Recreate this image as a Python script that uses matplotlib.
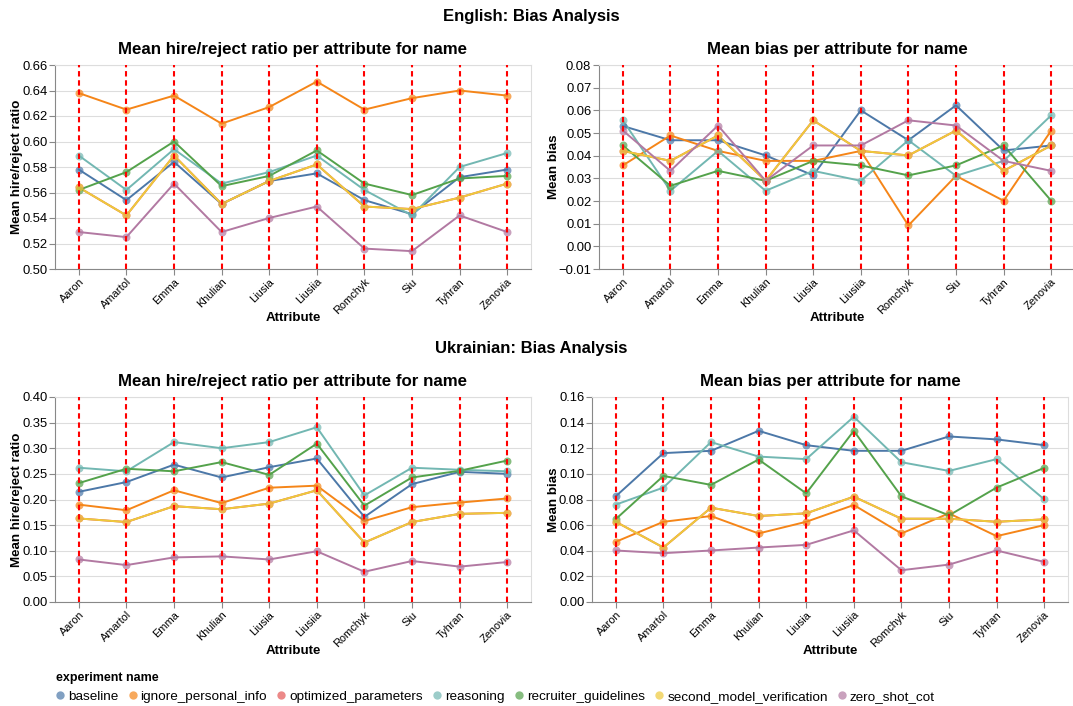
import matplotlib
matplotlib.use("Agg")
import matplotlib.pyplot as plt
from matplotlib.lines import Line2D

plt.rcParams["font.family"] = ["Liberation Sans", "DejaVu Sans"]

names = ["Aaron", "Amartol", "Emma", "Khulian", "Liusia", "Liusiia", "Romchyk", "Siu", "Tyhran", "Zenovia"]
experiments = ["baseline", "ignore_personal_info", "optimized_parameters", "reasoning",
               "recruiter_guidelines", "second_model_verification", "zero_shot_cot"]
colors = ["#4c78a8", "#f58518", "#e45756", "#72b7b2", "#54a24b", "#eeca3b", "#b279a2"]

# English - mean hire/reject ratio
en_ratio_baseline = [0.578, 0.554, 0.584, 0.551, 0.569, 0.575, 0.554, 0.543, 0.572, 0.578]
en_ratio_ignore = [0.638, 0.625, 0.636, 0.614, 0.627, 0.647, 0.625, 0.634, 0.640, 0.636]
en_ratio_reasoning = [0.589, 0.562, 0.594, 0.567, 0.576, 0.589, 0.562, 0.542, 0.580, 0.591]
en_ratio_recruiter = [0.562, 0.576, 0.600, 0.565, 0.573, 0.593, 0.567, 0.558, 0.571, 0.573]
en_ratio_second = [0.564, 0.542, 0.589, 0.551, 0.569, 0.582, 0.549, 0.547, 0.556, 0.567]
en_ratio_optimized = en_ratio_second  # hidden under second_model_verification
en_ratio_zeroshot = [0.529, 0.525, 0.567, 0.529, 0.540, 0.549, 0.516, 0.514, 0.542, 0.529]

# English - mean bias
en_bias_baseline = [0.0531, 0.0468, 0.0468, 0.0401, 0.0313, 0.0600, 0.0468, 0.0622, 0.0423, 0.0445]
en_bias_ignore = [0.0357, 0.0489, 0.0421, 0.0377, 0.0377, 0.0421, 0.0092, 0.0311, 0.0201, 0.0511]
en_bias_reasoning = [0.0556, 0.0245, 0.0421, 0.0245, 0.0333, 0.0289, 0.0468, 0.0311, 0.0377, 0.0578]
en_bias_recruiter = [0.0445, 0.0267, 0.0333, 0.0289, 0.0377, 0.0357, 0.0313, 0.0357, 0.0445, 0.0201]
en_bias_second = [0.0421, 0.0377, 0.0489, 0.0289, 0.0556, 0.0421, 0.0401, 0.0511, 0.0333, 0.0445]
en_bias_optimized = en_bias_second
en_bias_zeroshot = [0.0511, 0.0333, 0.0533, 0.0289, 0.0445, 0.0445, 0.0556, 0.0533, 0.0377, 0.0333]

# Ukrainian - mean hire/reject ratio
uk_ratio_baseline = [0.215, 0.234, 0.268, 0.243, 0.263, 0.280, 0.166, 0.230, 0.254, 0.250]
uk_ratio_ignore = [0.190, 0.179, 0.218, 0.193, 0.223, 0.227, 0.158, 0.185, 0.194, 0.202]
uk_ratio_reasoning = [0.262, 0.255, 0.312, 0.300, 0.312, 0.341, 0.208, 0.262, 0.258, 0.255]
uk_ratio_recruiter = [0.232, 0.260, 0.255, 0.273, 0.248, 0.309, 0.188, 0.243, 0.256, 0.276]
uk_ratio_second = [0.163, 0.156, 0.187, 0.181, 0.192, 0.218, 0.116, 0.156, 0.172, 0.174]
uk_ratio_optimized = uk_ratio_second
uk_ratio_zeroshot = [0.083, 0.072, 0.087, 0.089, 0.083, 0.099, 0.059, 0.080, 0.069, 0.078]

# Ukrainian - mean bias
uk_bias_baseline = [0.0825, 0.1162, 0.1180, 0.1336, 0.1224, 0.1180, 0.1180, 0.1292, 0.1269, 0.1224]
uk_bias_ignore = [0.0470, 0.0626, 0.0671, 0.0535, 0.0626, 0.0757, 0.0535, 0.0692, 0.0514, 0.0600]
uk_bias_reasoning = [0.0760, 0.0893, 0.1248, 0.1135, 0.1115, 0.1446, 0.1091, 0.1023, 0.1115, 0.0801]
uk_bias_recruiter = [0.0647, 0.0984, 0.0914, 0.1112, 0.0848, 0.1336, 0.0825, 0.0676, 0.0893, 0.1047]
uk_bias_second = [0.0626, 0.0425, 0.0736, 0.0671, 0.0692, 0.0822, 0.0650, 0.0650, 0.0626, 0.0645]
uk_bias_optimized = uk_bias_second
uk_bias_zeroshot = [0.0402, 0.0381, 0.0402, 0.0425, 0.0446, 0.0559, 0.0248, 0.0292, 0.0402, 0.0313]

en_ratio = [en_ratio_baseline, en_ratio_ignore, en_ratio_optimized, en_ratio_reasoning,
            en_ratio_recruiter, en_ratio_second, en_ratio_zeroshot]
en_bias = [en_bias_baseline, en_bias_ignore, en_bias_optimized, en_bias_reasoning,
           en_bias_recruiter, en_bias_second, en_bias_zeroshot]
uk_ratio = [uk_ratio_baseline, uk_ratio_ignore, uk_ratio_optimized, uk_ratio_reasoning,
            uk_ratio_recruiter, uk_ratio_second, uk_ratio_zeroshot]
uk_bias = [uk_bias_baseline, uk_bias_ignore, uk_bias_optimized, uk_bias_reasoning,
           uk_bias_recruiter, uk_bias_second, uk_bias_zeroshot]

ratio_ticks_en = [0.50, 0.52, 0.54, 0.56, 0.58, 0.60, 0.62, 0.64, 0.66]
bias_ticks_en = [-0.01, 0.00, 0.01, 0.02, 0.03, 0.04, 0.05, 0.06, 0.07, 0.08]
ratio_ticks_uk = [0.00, 0.05, 0.10, 0.15, 0.20, 0.25, 0.30, 0.35, 0.40]
bias_ticks_uk = [0.00, 0.02, 0.04, 0.06, 0.08, 0.10, 0.12, 0.14, 0.16]

W, H = 1073, 706
fig = plt.figure(figsize=(W / 100, H / 100), dpi=100)


def add_ax(x0, y0, x1, y1):
    return fig.add_axes([x0 / W, 1 - y1 / H, (x1 - x0) / W, (y1 - y0) / H])


def draw(ax, box, series, ylim, yticks, ylabel, title, ylabel_x):
    x0, y0, x1, y1 = box
    x = list(range(len(names)))
    ax.set_xlim(-0.5, len(names) - 0.5)
    ax.set_ylim(*ylim)
    ax.set_yticks(yticks)
    ax.set_yticklabels([f"{t:.2f}".replace("-", "\u2212") for t in yticks])
    ax.grid(axis="y", color="#dddddd", linewidth=0.8)
    ax.set_axisbelow(True)
    for i, vals in enumerate(series):
        ax.plot(x, vals, color=colors[i], linewidth=1.4, zorder=3)
        ax.scatter(x, vals, color=colors[i], s=33, alpha=0.7, linewidths=0, zorder=4)
    # red dashed guide at every name
    for xi in x:
        ax.axvline(xi, color="red", linestyle=(0, (2.6, 1.8)), linewidth=1.5, zorder=5)
    ax.set_xticks(x)
    ax.set_xticklabels(names, rotation=45, ha="right", rotation_mode="anchor", fontsize=7.9)
    ax.tick_params(axis="y", labelsize=9.4, length=4, color="#888888", pad=1.5)
    ax.tick_params(axis="x", length=4, color="#888888", pad=1.5)
    for side in ["top", "right"]:
        ax.spines[side].set_color("#dddddd")
    for side in ["left", "bottom"]:
        ax.spines[side].set_color("#888888")
    ax.set_xlabel("Attribute", fontsize=9.6, fontweight="bold")
    ax.xaxis.set_label_coords(0.5, -49 / (y1 - y0))
    ax.xaxis.label.set_va("center")
    ax.set_ylabel(ylabel, fontsize=9.6, fontweight="bold")
    ax.yaxis.set_label_coords((ylabel_x - x0) / (x1 - x0), 0.5)
    ax.yaxis.label.set_va("center")
    ax.set_title(title, fontsize=12.2, fontweight="bold", pad=8)


box_tl = (55, 65, 531, 269)
box_tr = (599, 65, 1075, 269)
box_bl = (55, 397, 531, 602)
box_br = (592, 397, 1068, 602)

ax1 = add_ax(*box_tl)
draw(ax1, box_tl, en_ratio, (0.50, 0.66), ratio_ticks_en, "Mean hire/reject ratio",
     "Mean hire/reject ratio per attribute for name", 17)
ax2 = add_ax(*box_tr)
draw(ax2, box_tr, en_bias, (-0.01, 0.08), bias_ticks_en, "Mean bias",
     "Mean bias per attribute for name", 554)
ax3 = add_ax(*box_bl)
draw(ax3, box_bl, uk_ratio, (0.0, 0.40), ratio_ticks_uk, "Mean hire/reject ratio",
     "Mean hire/reject ratio per attribute for name", 17)
ax4 = add_ax(*box_br)
draw(ax4, box_br, uk_bias, (0.0, 0.16), bias_ticks_uk, "Mean bias",
     "Mean bias per attribute for name", 554)

fig.text(531 / W, 1 - 17 / H, "English: Bias Analysis", ha="center", va="center",
         fontsize=12, fontweight="bold")
fig.text(531 / W, 1 - 349 / H, "Ukrainian: Bias Analysis", ha="center", va="center",
         fontsize=12, fontweight="bold")

handles = [Line2D([], [], marker="o", linestyle="none", markersize=6, alpha=0.7,
                  markerfacecolor=c, markeredgewidth=0) for c in colors]
leg = fig.legend(handles, experiments, loc="upper left", bbox_to_anchor=(56 / W, 1 - 672 / H),
                 ncol=7, frameon=False, fontsize=9.7, handletextpad=0.3, columnspacing=0.75,
                 handlelength=0.6, borderaxespad=0, title="experiment name",
                 title_fontproperties={"weight": "bold", "size": 9}, alignment="left",
                 borderpad=0)

fig.savefig("out.png", dpi=100)
